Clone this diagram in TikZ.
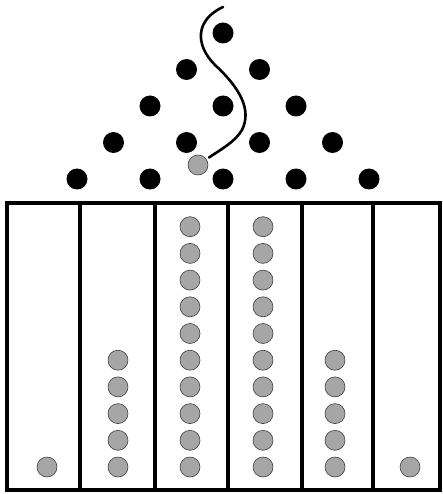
\documentclass[tikz,border=0pt]{standalone}
\begin{document}
\begin{tikzpicture}[x=1pt, y=-1pt,
    peg/.style={circle, fill=black, inner sep=0pt, minimum size=21pt},
    ball/.style={circle, fill=gray!70, draw=gray!50!black, line width=0.6pt, inner sep=0pt, minimum size=20pt},
    wall/.style={line width=4pt}]
    \useasboundingbox (0,0) rectangle (443,494);

    % pegs
    \foreach \r in {1,...,5} {
        \foreach \k in {1,...,\r} {
            \node (peg-\r-\k) [peg] at ({223 + 73*(\k - (\r+1)/2)}, {33 + 36.5*(\r-1)}) {};
        }
    }

    % falling ball and its path
    \node (falling) [ball] at (198,165) {};
    \coordinate (drop) at (223,7);
    \draw [line width=2.6pt, line cap=round, shorten >=3pt] (drop)
        .. controls (195,20) and (195,45) .. (215,65)
        .. controls (240,88) and (252,110) .. (242,130)
        .. controls (235,142) and (220,150) .. (falling);

    % bins
    \draw [wall] (7,203) rectangle (440,490);
    \foreach \x in {80,155,228,302,373} {
        \draw [wall] (\x,203) -- (\x,490);
    }

    % collected balls
    \foreach \x/\n/\i in {47/1/1, 118/5/2, 190/10/3, 263/10/4, 335/5/5, 410/1/6} {
        \foreach \j in {1,...,\n} {
            \node (ball-\i-\j) [ball] at (\x, {467 - 26.7*(\j-1)}) {};
        }
    }
\end{tikzpicture}
\end{document}
